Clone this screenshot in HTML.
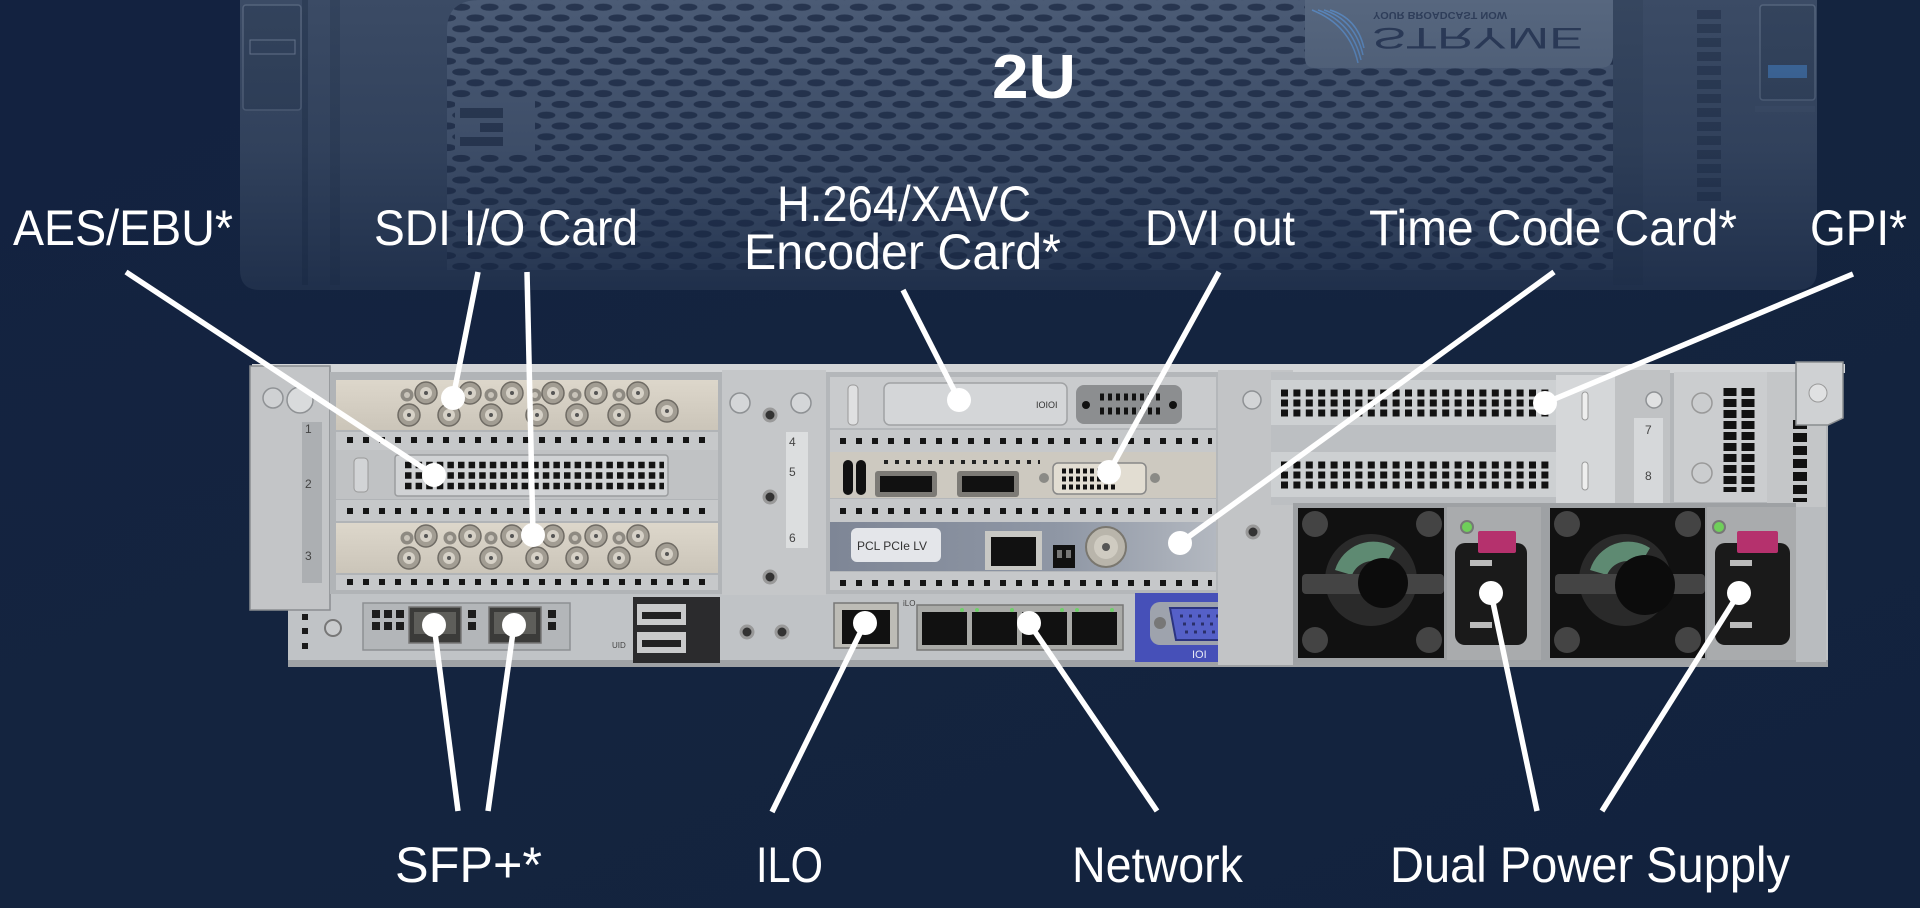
<!DOCTYPE html>
<html><head><meta charset="utf-8"><style>
html,body{margin:0;padding:0;background:#13233f;width:1920px;height:908px;overflow:hidden;}
svg{display:block}
</style></head><body>
<svg width="1920" height="908" viewBox="0 0 1920 908" xmlns="http://www.w3.org/2000/svg" xmlns:xlink="http://www.w3.org/1999/xlink">
<defs>
 <linearGradient id="bg" x1="0" y1="0" x2="1" y2="1">
  <stop offset="0" stop-color="#132240"/>
  <stop offset="0.5" stop-color="#14243f"/>
  <stop offset="1" stop-color="#12223d"/>
 </linearGradient>
 <pattern id="perf" x="447" y="1.8" width="28.4" height="21.6" patternUnits="userSpaceOnUse">
  <ellipse cx="14.2" cy="5.4" rx="9" ry="3.6" fill="#27354f"/>
  <ellipse cx="0" cy="16.2" rx="9" ry="3.6" fill="#27354f"/>
  <ellipse cx="28.4" cy="16.2" rx="9" ry="3.6" fill="#27354f"/>
 </pattern>
 <linearGradient id="fade" x1="0" y1="0" x2="0" y2="1">
  <stop offset="0" stop-color="#13233f" stop-opacity="0"/>
  <stop offset="0.5" stop-color="#13233f" stop-opacity="0.25"/>
  <stop offset="0.83" stop-color="#13233f" stop-opacity="0.55"/>
  <stop offset="1" stop-color="#13233f" stop-opacity="0.72"/>
 </linearGradient>
 <linearGradient id="beige" x1="0" y1="0" x2="0" y2="1">
  <stop offset="0" stop-color="#ddd7cb"/>
  <stop offset="1" stop-color="#cbc5b9"/>
 </linearGradient>
 <linearGradient id="tc" x1="0" y1="0" x2="1" y2="0">
  <stop offset="0" stop-color="#7e8696"/>
  <stop offset="0.6" stop-color="#8f97a5"/>
  <stop offset="1" stop-color="#b3b8c0"/>
 </linearGradient>
 <g id="bB">
  <circle r="11" fill="#a29d93" stroke="#6f6b64" stroke-width="1.5"/>
  <circle r="6" fill="#d6d1c7"/>
  <circle r="2" fill="#555"/>
 </g>
 <g id="bS">
  <circle r="6.5" fill="#8e8a82"/>
  <circle r="3" fill="#c8c3b9"/>
 </g>
 <g id="sdi">
  <rect x="336" y="380" width="382" height="50" fill="url(#beige)"/>
  <use xlink:href="#bS" x="407" y="395"/>
  <use xlink:href="#bB" x="426" y="393"/>
  <use xlink:href="#bS" x="450" y="395"/>
  <use xlink:href="#bB" x="470" y="393"/>
  <use xlink:href="#bS" x="491" y="395"/>
  <use xlink:href="#bB" x="512" y="393"/>
  <use xlink:href="#bS" x="535" y="395"/>
  <use xlink:href="#bB" x="553" y="393"/>
  <use xlink:href="#bS" x="575" y="395"/>
  <use xlink:href="#bB" x="596" y="393"/>
  <use xlink:href="#bS" x="619" y="395"/>
  <use xlink:href="#bB" x="638" y="393"/>
  <use xlink:href="#bB" x="409" y="415"/>
  <use xlink:href="#bB" x="449" y="415"/>
  <use xlink:href="#bB" x="491" y="415"/>
  <use xlink:href="#bB" x="537" y="415"/>
  <use xlink:href="#bB" x="577" y="415"/>
  <use xlink:href="#bB" x="619" y="415"/>
  <use xlink:href="#bB" x="667" y="411"/>
 </g>
</defs>

<!-- background -->
<rect x="0" y="0" width="1920" height="908" fill="url(#bg)"/>

<!-- ===== faded front bezel ===== -->
<path d="M240 0 H1817 V270 Q1817 290 1797 290 H260 Q240 290 240 270 Z" fill="#3b4b65"/>
<rect x="243" y="5" width="58" height="105" rx="3" fill="#33435c" stroke="#56657d" stroke-width="1.5"/>
<rect x="250" y="40" width="45" height="14" fill="none" stroke="#6a7890" stroke-width="1"/>
<rect x="302" y="0" width="6" height="285" fill="#2e3e57"/>
<rect x="330" y="0" width="10" height="285" fill="#33435c"/>
<path d="M447 30 Q447 0 480 0 H1613 V270 H447 Z" fill="#4b5b75"/>
<path d="M447 30 Q447 0 480 0 H1613 V270 H447 Z" fill="url(#perf)"/>
<rect x="455" y="100" width="80" height="52" fill="#4b5b75"/>
<rect x="460" y="108" width="43" height="10" fill="#2c3a53"/>
<rect x="480" y="123" width="23" height="9" fill="#2c3a53"/>
<rect x="460" y="137" width="43" height="9" fill="#2c3a53"/>
<path d="M1305 0 H1613 V55 Q1613 68 1600 68 H1315 Q1305 68 1305 58 Z" fill="#57677f"/>
<g fill="none" stroke="#5a86bb" stroke-width="1.5">
 <path d="M1312 10 Q1350 25 1358 63"/>
 <path d="M1318 10 Q1352 22 1361 60"/>
 <path d="M1324 10 Q1355 20 1363 55"/>
 <path d="M1330 10 Q1357 18 1364 48"/>
</g>
<text transform="translate(1372,28) scale(1,-1)" font-family="Liberation Sans, sans-serif" font-size="30" fill="#2b3a57" textLength="211" lengthAdjust="spacingAndGlyphs">STRYME</text>
<text transform="translate(1373,12) scale(1,-1)" font-family="Liberation Sans, sans-serif" font-size="10" font-weight="bold" fill="#2f3e5a" textLength="134" lengthAdjust="spacingAndGlyphs">YOUR BROADCAST NOW</text>
<rect x="1613" y="0" width="30" height="285" fill="#36465f"/>
<g fill="#2c3b54">
 <rect x="1697" y="10" width="24" height="9"/><rect x="1697" y="24" width="24" height="9"/>
 <rect x="1697" y="38" width="24" height="9"/><rect x="1697" y="52" width="24" height="9"/>
 <rect x="1697" y="66" width="24" height="9"/><rect x="1697" y="80" width="24" height="9"/>
 <rect x="1697" y="94" width="24" height="9"/><rect x="1697" y="108" width="24" height="9"/>
 <rect x="1697" y="122" width="24" height="9"/><rect x="1697" y="136" width="24" height="9"/>
 <rect x="1697" y="150" width="24" height="9"/><rect x="1697" y="164" width="24" height="9"/>
 <rect x="1697" y="178" width="24" height="9"/><rect x="1697" y="192" width="24" height="9"/>
</g>
<rect x="1760" y="5" width="55" height="95" rx="3" fill="#34445d" stroke="#55657d" stroke-width="1.5"/>
<rect x="1768" y="65" width="39" height="13" fill="#3f6a9e"/>
<rect x="1755" y="106" width="60" height="6" fill="#3f4f69"/>
<rect x="0" y="0" width="1920" height="300" fill="url(#fade)"/>

<!-- ===== server chassis ===== -->
<rect x="288" y="368" width="1540" height="299" fill="#b3b6b9"/>
<rect x="288" y="590" width="1540" height="77" fill="#c0c3c6"/>
<rect x="252" y="364" width="1593" height="9" fill="#d3d5d7"/>
<rect x="288" y="660" width="1540" height="7" fill="#9fa2a5"/>

<!-- left ear -->
<rect x="250" y="366" width="80" height="244" fill="#c3c5c7" stroke="#8a8d90" stroke-width="1.5"/>
<circle cx="273" cy="398" r="10" fill="#cfd1d3" stroke="#8f9295" stroke-width="1.5"/>
<circle cx="300" cy="400" r="13" fill="#d9dbdc" stroke="#8f9295" stroke-width="1.5"/>
<rect x="302" y="422" width="20" height="161" fill="#acafb2"/>
<g font-family="Liberation Sans, sans-serif" font-size="12" fill="#444">
 <text x="305" y="433">1</text><text x="305" y="488">2</text><text x="305" y="560">3</text>
</g>

<!-- left riser -->
<rect x="330" y="372" width="392" height="222" fill="#b1b4b7"/>
<use xlink:href="#sdi"/>
<use xlink:href="#sdi" y="143"/>
<rect x="336" y="432" width="382" height="18" fill="#c6c8ca"/>
<rect x="336" y="500" width="382" height="21" fill="#c6c8ca"/>
<rect x="336" y="575" width="382" height="15" fill="#c6c8ca"/>
<g stroke="#151515" stroke-width="6" stroke-dasharray="6 10">
 <line x1="347" y1="440" x2="715" y2="440"/>
 <line x1="347" y1="511" x2="715" y2="511"/>
 <line x1="347" y1="582" x2="715" y2="582"/>
</g>
<rect x="336" y="450" width="382" height="49" fill="#c0c2c4"/>
<rect x="354" y="458" width="14" height="34" rx="4" fill="#d2d4d6" stroke="#999" stroke-width="1"/>
<rect x="395" y="455" width="273" height="41" rx="3" fill="#d0d2d4" stroke="#9a9c9e" stroke-width="1.5"/>
<g stroke="#141414" stroke-width="6.5" stroke-dasharray="6.5 4.1">
 <line x1="405" y1="465" x2="664" y2="465"/>
 <line x1="405" y1="475.5" x2="664" y2="475.5"/>
 <line x1="405" y1="486" x2="664" y2="486"/>
</g>

<!-- bottom left -->
<g fill="#1a1a1a">
 <rect x="302" y="614" width="6" height="6"/><rect x="302" y="628" width="6" height="6"/><rect x="302" y="643" width="6" height="6"/>
</g>
<circle cx="333" cy="628" r="8" fill="#c9cbcd" stroke="#777" stroke-width="2"/>
<rect x="363" y="603" width="207" height="47" fill="#b3b6b9" stroke="#8d9093" stroke-width="1.5"/>
<g fill="#1c1c1c">
 <rect x="372" y="610" width="8" height="8"/><rect x="384" y="610" width="8" height="8"/><rect x="396" y="610" width="8" height="8"/>
 <rect x="372" y="622" width="8" height="8"/><rect x="384" y="622" width="8" height="8"/><rect x="396" y="622" width="8" height="8"/>
 <rect x="468" y="610" width="8" height="8"/><rect x="468" y="622" width="8" height="8"/>
 <rect x="548" y="610" width="8" height="8"/><rect x="548" y="622" width="8" height="8"/>
</g>
<rect x="409" y="607" width="52" height="36" fill="#3b3b39" stroke="#777" stroke-width="1.5"/>
<rect x="414" y="612" width="42" height="22" fill="#5e5e5a"/>
<rect x="489" y="607" width="52" height="36" fill="#3b3b39" stroke="#777" stroke-width="1.5"/>
<rect x="494" y="612" width="42" height="22" fill="#5e5e5a"/>
<rect x="633" y="597" width="87" height="66" fill="#2b2b2d"/>
<rect x="637" y="604" width="49" height="21" fill="#c9cacb"/>
<rect x="642" y="612" width="39" height="7" fill="#222"/>
<rect x="637" y="632" width="49" height="21" fill="#c9cacb"/>
<rect x="642" y="640" width="39" height="7" fill="#222"/>
<text x="612" y="648" font-family="Liberation Sans, sans-serif" font-size="8" fill="#444">UID</text>

<!-- center plate -->
<rect x="722" y="370" width="104" height="225" fill="#c5c7c9"/>
<circle cx="740" cy="403" r="10" fill="#d4d6d8" stroke="#8e9194" stroke-width="1.5"/>
<circle cx="801" cy="403" r="10" fill="#d4d6d8" stroke="#8e9194" stroke-width="1.5"/>
<circle cx="770" cy="415" r="6" fill="#333" stroke="#999" stroke-width="3"/>
<circle cx="770" cy="497" r="6" fill="#333" stroke="#999" stroke-width="3"/>
<circle cx="770" cy="577" r="6" fill="#333" stroke="#999" stroke-width="3"/>
<circle cx="747" cy="632" r="6" fill="#333" stroke="#999" stroke-width="3"/>
<circle cx="782" cy="632" r="6" fill="#333" stroke="#999" stroke-width="3"/>
<rect x="786" y="432" width="22" height="116" fill="#dcdedf"/>
<g font-family="Liberation Sans, sans-serif" font-size="12" fill="#444">
 <text x="789" y="446">4</text><text x="789" y="476">5</text><text x="789" y="542">6</text>
</g>

<!-- center riser -->
<rect x="826" y="372" width="392" height="222" fill="#b4b7ba"/>
<rect x="830" y="377" width="386" height="51" fill="#c9cbcd"/>
<rect x="848" y="385" width="10" height="40" rx="4" fill="#dfe0e1" stroke="#999" stroke-width="1"/>
<rect x="884" y="383" width="183" height="42" rx="6" fill="#d4d6d8" stroke="#a0a2a4" stroke-width="1.5"/>
<text x="1036" y="408" font-family="Liberation Sans, sans-serif" font-size="9" fill="#333">IOIOI</text>
<rect x="1076" y="385" width="106" height="39" rx="8" fill="#8c8e90"/>
<circle cx="1086" cy="405" r="4" fill="#111"/><circle cx="1173" cy="405" r="4" fill="#111"/>
<g stroke="#111" stroke-width="7" stroke-dasharray="4 4">
 <line x1="1100" y1="397" x2="1160" y2="397"/>
 <line x1="1100" y1="411" x2="1160" y2="411"/>
</g>
<rect x="830" y="430" width="386" height="22" fill="#c6c8ca"/>
<rect x="830" y="499" width="386" height="23" fill="#c6c8ca"/>
<rect x="830" y="572" width="386" height="18" fill="#c6c8ca"/>
<g stroke="#151515" stroke-width="6" stroke-dasharray="6 10">
 <line x1="840" y1="441" x2="1212" y2="441"/>
 <line x1="840" y1="511" x2="1212" y2="511"/>
 <line x1="840" y1="583" x2="1212" y2="583"/>
</g>
<!-- GPU card -->
<rect x="830" y="452" width="386" height="46" fill="#cdc9c0"/>
<rect x="843" y="460" width="10" height="35" rx="5" fill="#111"/>
<rect x="856" y="460" width="10" height="35" rx="5" fill="#111"/>
<line x1="884" y1="462" x2="1040" y2="462" stroke="#222" stroke-width="4" stroke-dasharray="4 7"/>
<rect x="875" y="471" width="62" height="26" rx="3" fill="#7d7b76"/>
<rect x="880" y="476" width="52" height="16" fill="#111"/>
<rect x="957" y="471" width="62" height="26" rx="3" fill="#7d7b76"/>
<rect x="962" y="476" width="52" height="16" fill="#111"/>
<circle cx="1044" cy="478" r="5" fill="#8a8a86"/>
<circle cx="1155" cy="478" r="5" fill="#8a8a86"/>
<rect x="1053" y="463" width="93" height="31" rx="5" fill="#e2ddd2" stroke="#888" stroke-width="1.5"/>
<g stroke="#111" stroke-width="5" stroke-dasharray="4 3">
 <line x1="1062" y1="471" x2="1118" y2="471"/>
 <line x1="1062" y1="479" x2="1118" y2="479"/>
 <line x1="1062" y1="487" x2="1118" y2="487"/>
</g>
<!-- time code card -->
<rect x="830" y="522" width="386" height="49" fill="url(#tc)"/>
<rect x="851" y="528" width="90" height="34" rx="6" fill="#e4e6ea"/>
<text x="857" y="550" font-family="Liberation Sans, sans-serif" font-size="12" fill="#333">PCL PCIe LV</text>
<rect x="985" y="531" width="57" height="39" fill="#c8c8c4"/>
<rect x="991" y="537" width="45" height="29" fill="#111"/>
<rect x="1053" y="545" width="22" height="23" fill="#111"/>
<rect x="1057" y="550" width="5" height="8" fill="#777"/><rect x="1066" y="550" width="5" height="8" fill="#777"/>
<circle cx="1106" cy="547" r="20" fill="#b9b5ab" stroke="#7a776f" stroke-width="2"/>
<circle cx="1106" cy="547" r="12" fill="#cfcbc1"/>
<circle cx="1106" cy="547" r="4" fill="#555"/>

<!-- bottom center -->
<rect x="834" y="603" width="64" height="45" fill="#bdbcb6" stroke="#777" stroke-width="1.5"/>
<rect x="842" y="610" width="48" height="34" fill="#111"/>
<text x="903" y="606" font-family="Liberation Sans, sans-serif" font-size="8" fill="#444">iLO</text>
<rect x="917" y="605" width="206" height="45" fill="#a9aaa7" stroke="#777" stroke-width="1.5"/>
<g fill="#111">
 <rect x="922" y="612" width="45" height="33"/><rect x="972" y="612" width="45" height="33"/>
 <rect x="1022" y="612" width="45" height="33"/><rect x="1072" y="612" width="45" height="33"/>
</g>
<g fill="#6fd06a">
 <circle cx="962" cy="610" r="2"/><circle cx="977" cy="610" r="2"/><circle cx="1012" cy="610" r="2"/>
 <circle cx="1062" cy="610" r="2"/><circle cx="1077" cy="610" r="2"/><circle cx="1112" cy="610" r="2"/>
</g>
<rect x="1135" y="593" width="150" height="69" fill="#4650b8"/>
<rect x="1150" y="602" width="112" height="43" rx="10" fill="#9ea3ad"/>
<circle cx="1160" cy="623" r="6" fill="#777"/><circle cx="1252" cy="623" r="6" fill="#777"/>
<path d="M1170 608 H1244 L1238 640 H1176 Z" fill="#5560c8" stroke="#2c3480" stroke-width="2"/>
<g stroke="#2a2f6a" stroke-width="3" stroke-dasharray="3 6">
 <line x1="1180" y1="616" x2="1234" y2="616"/>
 <line x1="1183" y1="624" x2="1232" y2="624"/>
 <line x1="1185" y1="632" x2="1230" y2="632"/>
</g>
<text x="1192" y="658" font-family="Liberation Sans, sans-serif" font-size="11" fill="#e8eaf6">IOI</text>

<!-- between center and right risers -->
<rect x="1218" y="370" width="75" height="295" fill="#c2c4c6"/>
<circle cx="1252" cy="400" r="9" fill="#d2d4d6" stroke="#8e9194" stroke-width="1.5"/>
<circle cx="1253" cy="532" r="6" fill="#333" stroke="#999" stroke-width="3"/>

<!-- right riser -->
<rect x="1271" y="372" width="345" height="133" fill="#bcbfc2"/>
<rect x="1271" y="380" width="285" height="45" fill="#cdd0d2"/>
<rect x="1271" y="452" width="285" height="45" fill="#cdd0d2"/>
<g stroke="#121212" stroke-width="7" stroke-dasharray="7 5.4">
 <line x1="1281" y1="393" x2="1549" y2="393"/>
 <line x1="1281" y1="403" x2="1549" y2="403"/>
 <line x1="1281" y1="413" x2="1549" y2="413"/>
 <line x1="1281" y1="465" x2="1549" y2="465"/>
 <line x1="1281" y1="475" x2="1549" y2="475"/>
 <line x1="1281" y1="485" x2="1549" y2="485"/>
</g>
<rect x="1556" y="375" width="59" height="130" fill="#d5d7d9"/>
<rect x="1582" y="392" width="6" height="28" rx="3" fill="#eee" stroke="#999"/>
<rect x="1582" y="462" width="6" height="28" rx="3" fill="#eee" stroke="#999"/>
<rect x="1615" y="370" width="55" height="135" fill="#c0c2c4"/>
<circle cx="1654" cy="400" r="8" fill="#e0e1e2" stroke="#8e9194" stroke-width="1.5"/>
<rect x="1634" y="418" width="29" height="87" fill="#d6d8da"/>
<g font-family="Liberation Sans, sans-serif" font-size="12" fill="#444">
 <text x="1645" y="434">7</text><text x="1645" y="480">8</text>
</g>
<rect x="1674" y="372" width="93" height="130" fill="#cbcdcf"/>
<circle cx="1702" cy="403" r="10" fill="none" stroke="#999" stroke-width="1.5"/>
<circle cx="1702" cy="473" r="10" fill="none" stroke="#999" stroke-width="1.5"/>
<g stroke="#111" stroke-width="13" stroke-dasharray="8 3">
 <line x1="1730" y1="388" x2="1730" y2="492"/>
 <line x1="1748" y1="388" x2="1748" y2="492"/>
</g>
<rect x="1767" y="372" width="59" height="135" fill="#c4c6c8"/>
<line x1="1800" y1="420" x2="1800" y2="502" stroke="#111" stroke-width="14" stroke-dasharray="9 4"/>
<path d="M1796 362 H1843 V418 L1828 425 H1796 Z" fill="#cfd1d3" stroke="#8a8d90" stroke-width="1.5"/>
<circle cx="1818" cy="393" r="9" fill="#e0e1e2" stroke="#999"/>

<!-- PSUs -->
<rect x="1293" y="503" width="503" height="159" fill="#9ea1a4"/>
<!-- PSU1 -->
<rect x="1298" y="508" width="146" height="150" fill="#111"/>
<circle cx="1315" cy="524" r="13" fill="#444"/><circle cx="1429" cy="524" r="13" fill="#444"/>
<circle cx="1315" cy="640" r="13" fill="#444"/><circle cx="1429" cy="640" r="13" fill="#444"/>
<circle cx="1371" cy="580" r="46" fill="#2a2a2a"/>
<path d="M1335 570 A40 40 0 0 1 1395 548 L1385 565 A22 22 0 0 0 1352 575 Z" fill="#5e8a72"/>
<rect x="1302" y="574" width="142" height="20" rx="4" fill="#444"/>
<circle cx="1383" cy="583" r="25" fill="#0c0c0c"/>
<rect x="1447" y="507" width="94" height="153" fill="#a9abad"/>
<rect x="1455" y="543" width="72" height="102" rx="10" fill="#1a1a1a"/>
<rect x="1470" y="560" width="22" height="6" fill="#bbb"/>
<rect x="1470" y="622" width="22" height="6" fill="#bbb"/>
<circle cx="1467" cy="527" r="6" fill="#6fcf5a" stroke="#777" stroke-width="2"/>
<rect x="1478" y="531" width="38" height="22" rx="2" fill="#b5316d"/>
<!-- PSU2 -->
<rect x="1550" y="508" width="155" height="150" fill="#111"/>
<circle cx="1567" cy="524" r="13" fill="#444"/><circle cx="1688" cy="524" r="13" fill="#444"/>
<circle cx="1567" cy="640" r="13" fill="#444"/><circle cx="1688" cy="640" r="13" fill="#444"/>
<circle cx="1625" cy="580" r="46" fill="#2a2a2a"/>
<path d="M1590 570 A40 40 0 0 1 1650 548 L1640 565 A22 22 0 0 0 1607 575 Z" fill="#5e8a72"/>
<rect x="1555" y="574" width="150" height="20" rx="4" fill="#444"/>
<circle cx="1645" cy="585" r="30" fill="#0c0c0c"/>
<rect x="1707" y="507" width="89" height="153" fill="#a9abad"/>
<rect x="1715" y="543" width="75" height="102" rx="10" fill="#1a1a1a"/>
<rect x="1730" y="560" width="22" height="6" fill="#bbb"/>
<rect x="1730" y="622" width="22" height="6" fill="#bbb"/>
<circle cx="1719" cy="527" r="6" fill="#6fcf5a" stroke="#777" stroke-width="2"/>
<rect x="1737" y="531" width="41" height="22" rx="2" fill="#b5316d"/>
<rect x="1796" y="507" width="30" height="155" fill="#b9bcbf"/>

<!-- ===== callout lines ===== -->
<g stroke="#ffffff" stroke-width="5.5">
 <line x1="126" y1="272" x2="434" y2="475"/>
 <line x1="478" y1="272" x2="453" y2="398"/>
 <line x1="527" y1="272" x2="533" y2="535"/>
 <line x1="903" y1="290" x2="959" y2="400"/>
 <line x1="1219" y1="272" x2="1109" y2="472"/>
 <line x1="1554" y1="272" x2="1180" y2="543"/>
 <line x1="1853" y1="274" x2="1545" y2="403"/>
 <line x1="434" y1="625" x2="458" y2="811"/>
 <line x1="514" y1="625" x2="488" y2="811"/>
 <line x1="865" y1="623" x2="772" y2="812"/>
 <line x1="1029" y1="623" x2="1157" y2="811"/>
 <line x1="1491" y1="593" x2="1537" y2="811"/>
 <line x1="1739" y1="593" x2="1602" y2="811"/>
</g>
<g fill="#ffffff">
 <circle cx="434" cy="475" r="12"/>
 <circle cx="453" cy="398" r="12"/>
 <circle cx="533" cy="535" r="12"/>
 <circle cx="959" cy="400" r="12"/>
 <circle cx="1109" cy="472" r="12"/>
 <circle cx="1180" cy="543" r="12"/>
 <circle cx="1545" cy="403" r="12"/>
 <circle cx="434" cy="625" r="12"/>
 <circle cx="514" cy="625" r="12"/>
 <circle cx="865" cy="623" r="12"/>
 <circle cx="1029" cy="623" r="12"/>
 <circle cx="1491" cy="593" r="12"/>
 <circle cx="1739" cy="593" r="12"/>
</g>

<!-- ===== labels ===== -->
<text x="992" y="98" font-family="Liberation Sans, sans-serif" font-size="62" font-weight="bold" fill="#ffffff" textLength="84" lengthAdjust="spacingAndGlyphs">2U</text>
<g font-family="Liberation Sans, sans-serif" font-size="50" fill="#ffffff">
 <text x="13" y="245" textLength="220" lengthAdjust="spacingAndGlyphs">AES/EBU*</text>
 <text x="374" y="245" textLength="264" lengthAdjust="spacingAndGlyphs">SDI I/O Card</text>
 <text x="777" y="221" textLength="254" lengthAdjust="spacingAndGlyphs">H.264/XAVC</text>
 <text x="744" y="269" textLength="317" lengthAdjust="spacingAndGlyphs">Encoder Card*</text>
 <text x="1145" y="245" textLength="150" lengthAdjust="spacingAndGlyphs">DVI out</text>
 <text x="1369" y="245" textLength="368" lengthAdjust="spacingAndGlyphs">Time Code Card*</text>
 <text x="1810" y="245" textLength="97" lengthAdjust="spacingAndGlyphs">GPI*</text>
 <text x="395" y="882" textLength="147" lengthAdjust="spacingAndGlyphs">SFP+*</text>
 <text x="756" y="882" textLength="67" lengthAdjust="spacingAndGlyphs">ILO</text>
 <text x="1072" y="882" textLength="171" lengthAdjust="spacingAndGlyphs">Network</text>
 <text x="1390" y="882" textLength="400" lengthAdjust="spacingAndGlyphs">Dual Power Supply</text>
</g>
</svg>
</body></html>
